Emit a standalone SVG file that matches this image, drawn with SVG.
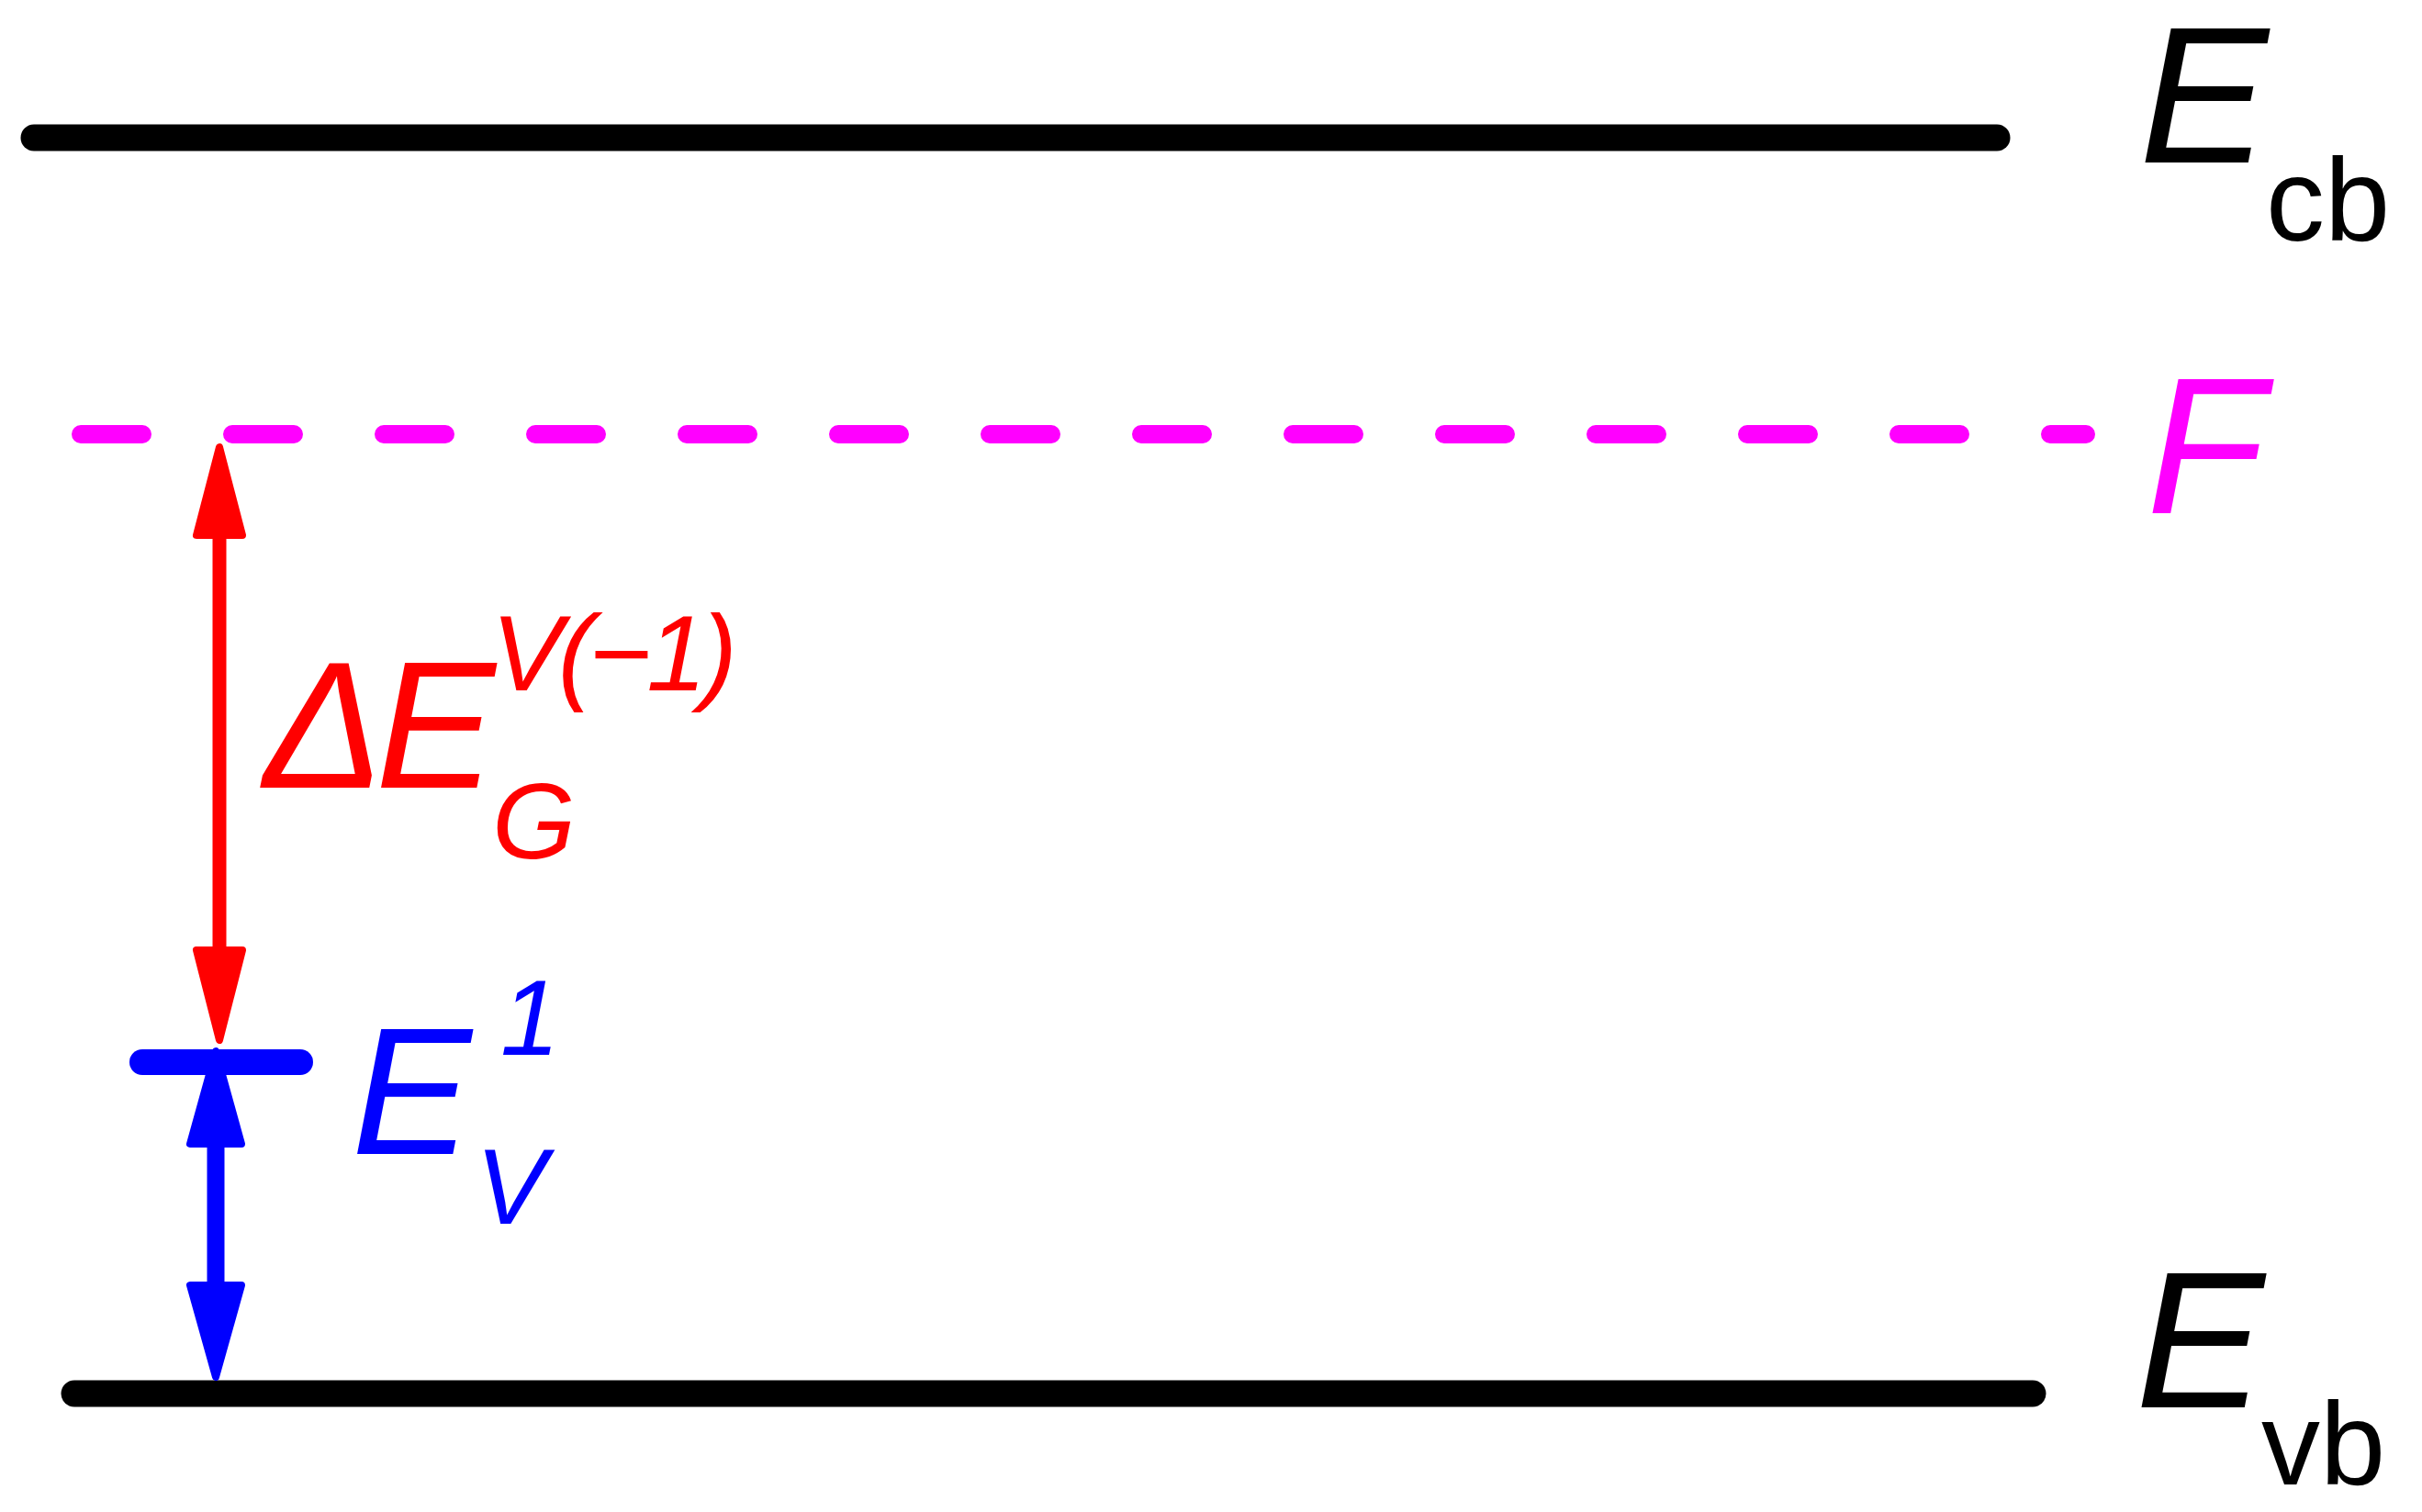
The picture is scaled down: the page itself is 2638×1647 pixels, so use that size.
<svg xmlns="http://www.w3.org/2000/svg" width="2638" height="1647" viewBox="0 0 2638 1647">
<style>
.lvl{stroke:#000;stroke-width:29;stroke-linecap:round;fill:none}
.lab{font-family:"Liberation Sans",Arial,sans-serif;font-style:italic}
.sub{font-family:"Liberation Sans",Arial,sans-serif}
.red{fill:#FF0000}
.blue{fill:#0000FF}
.head-r{fill:#FF0000;stroke:#FF0000;stroke-width:8;stroke-linejoin:round}
.head-b{fill:#0000FF;stroke:#0000FF;stroke-width:8;stroke-linejoin:round}
</style>
<rect width="2638" height="1647" fill="#fff"/>
<g id="level-cb">
<line class="lvl" x1="37" y1="150" x2="2175" y2="150"/>
<text class="lab" x="2330" y="177" font-size="211">E</text>
<text class="sub" x="2468" y="262" font-size="128">cb</text>
</g>
<g id="level-fermi">
<line x1="88" y1="473" x2="2272" y2="473" stroke="#FF00FF" stroke-width="20" stroke-linecap="round" stroke-dasharray="67 98"/>
<text class="lab" x="2338" y="559" font-size="211" fill="#FF00FF">F</text>
</g>
<g id="level-v1">
<line x1="155" y1="1157" x2="327" y2="1157" stroke="#0000FF" stroke-width="28" stroke-linecap="round"/>
<text class="lab blue" x="383" y="1257" font-size="196">E</text>
<text class="lab blue" x="545" y="1149" font-size="116">1</text>
<text class="lab blue" x="518" y="1333" font-size="116">V</text>
</g>
<g id="level-vb">
<line class="lvl" x1="81" y1="1518" x2="2214" y2="1518"/>
<text class="lab" x="2326" y="1533" font-size="211">E</text>
<text class="sub" x="2463" y="1617" font-size="128">vb</text>
</g>
<g id="connectors">
<g id="arrow-gap">
<line x1="239" y1="580" x2="239" y2="1038" stroke="#FF0000" stroke-width="15"/>
<polygon class="head-r" points="239,487 214,583 264,583"/>
<polygon class="head-r" points="239,1133 214,1035 264,1035"/>
</g>
<g id="arrow-v1">
<line x1="235" y1="1240" x2="235" y2="1405" stroke="#0000FF" stroke-width="19"/>
<polygon class="head-b" points="235,1145 207,1246 263,1246"/>
<polygon class="head-b" points="235,1500 207,1400 263,1400"/>
</g>
</g>
<g id="label-gap">
<text class="lab red" x="287" y="858" font-size="196">Δ</text>
<text class="lab red" x="409" y="858" font-size="196">E</text>
<text class="lab red" x="535" y="752" font-size="117" textLength="268" lengthAdjust="spacing">V(−1)</text>
<text class="lab red" x="536" y="935" font-size="117">G</text>
</g>
</svg>
